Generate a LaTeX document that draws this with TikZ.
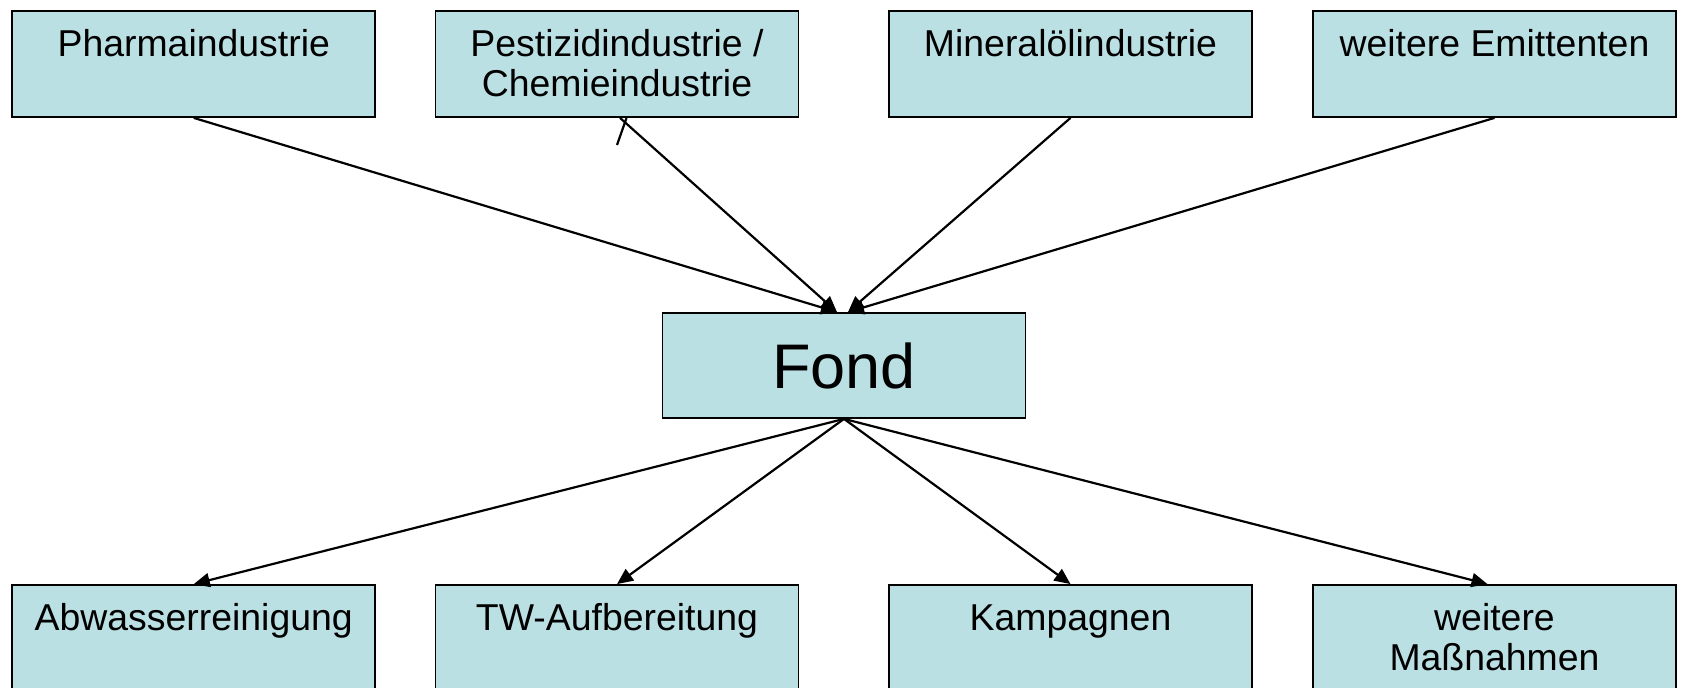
\documentclass[tikz,border=0pt]{standalone}
\usepackage{fontspec}
\setmainfont{Liberation Sans}
\usetikzlibrary{arrows.meta,calc}
\definecolor{boxfill}{RGB}{187,224,227}
\tikzset{
  boxstyle/.style={draw=black, fill=boxfill, line width=0.9pt, rectangle, inner sep=0pt},
  conn/.style={draw=black, line width=1.1pt, -{Triangle[length=8pt,width=7pt]}},
  plain/.style={draw=black, line width=1.1pt},
}
\newcommand{\boxtext}[1]{\parbox[c][53pt][t]{181.5pt}{\centering\fontsize{18.7pt}{20pt}\selectfont\rule{0pt}{23pt}#1}}
\begin{document}
\begin{tikzpicture}[x=0.5pt,y=-0.5pt]
\useasboundingbox (0,0) rectangle (1681,688);
% top row
\node[boxstyle] (p1) at (193.75,64) {\boxtext{Pharmaindustrie}};
\node[boxstyle] (p2) at (617,64) {\boxtext{Pestizidindustrie /\\Chemieindustrie}};
\node[boxstyle] (p3) at (1070.5,64) {\boxtext{Mineralölindustrie}};
\node[boxstyle] (p4) at (1494.5,64) {\boxtext{weitere Emittenten}};
% center
\node[boxstyle, minimum width=181.5pt, minimum height=52.5pt, font=\fontsize{31.5pt}{36pt}\selectfont] (fond) at (844,365.5) {Fond};
% bottom row
\node[boxstyle] (b1) at (193.75,638) {\boxtext{Abwasserreinigung}};
\node[boxstyle] (b2) at (617,638) {\boxtext{TW-Aufbereitung}};
\node[boxstyle] (b3) at (1070.5,638) {\boxtext{Kampagnen}};
\node[boxstyle] (b4) at (1494.5,638) {\boxtext{weitere\\Maßnahmen}};
% incoming
\coordinate (inL) at ($(fond.north)+(-7,0)$);
\coordinate (inR) at ($(fond.north)+(4,0)$);
\draw[conn] (p1.south) -- (inL);
\draw[conn] ($(p2.south)+(3,0)$) -- (inL);
\draw[conn] (p3.south) -- (inR);
\draw[conn] (p4.south) -- (inR);
% stray stroke
\coordinate (s1) at (626.5,118);
\coordinate (s2) at (617,145);
\draw[plain] (s1) -- (s2);
% outgoing
\draw[conn] (fond.south) -- (b1.north);
\draw[conn] (fond.south) -- (b2.north);
\draw[conn] (fond.south) -- (b3.north);
\draw[conn] (fond.south) -- ($(b4.north)+(-7,0)$);
\end{tikzpicture}
\end{document}
